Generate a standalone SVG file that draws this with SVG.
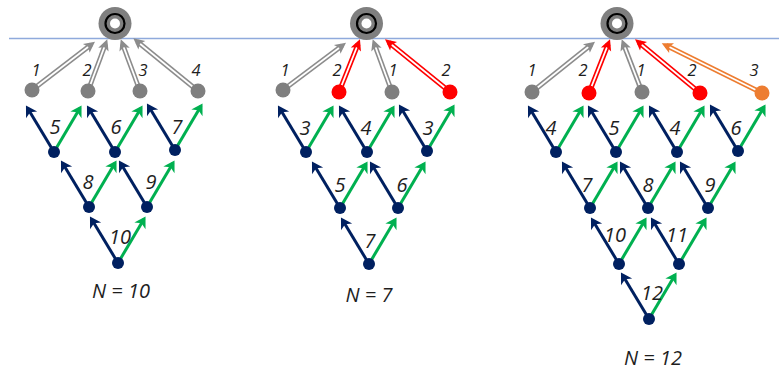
<svg xmlns="http://www.w3.org/2000/svg" width="779" height="372" viewBox="0 0 779 372">
<style>
.nv{stroke:#002060;stroke-width:3;fill:none;marker-end:url(#hNavy)}
.gr{stroke:#00B050;stroke-width:3;fill:none;marker-end:url(#hGreen)}
.dg{stroke:#8C8C8C;stroke-width:5;fill:none}
.dr{stroke:#FF0000;stroke-width:5;fill:none}
.do{stroke:#ED7D31;stroke-width:5;fill:none}
.w{stroke:#FFFFFF;stroke-width:1.8;fill:none}
.wg{marker-end:url(#hGray)}
.wr{marker-end:url(#hRed)}
.wo{marker-end:url(#hOrange)}
.n{fill:#002060}
.tg{fill:#7F7F7F}
.tr{fill:#FF0000}
.to{fill:#ED7D31}
text{font-family:"Open Sans","Liberation Sans",sans-serif;font-style:italic;fill:#1E1E1E;text-anchor:middle}
.s{font-size:16.5px}
.m{font-size:20px}
</style>
<defs>
<marker id="hNavy" markerUnits="userSpaceOnUse" viewBox="-10 -8 15 16" refX="0" refY="0" markerWidth="15" markerHeight="16" orient="auto" overflow="visible"><path d="M3,0 L-8,-6.5 L-5,0 L-8,6.5 Z" fill="#002060"/></marker>
<marker id="hGreen" markerUnits="userSpaceOnUse" viewBox="-10 -8 15 16" refX="0" refY="0" markerWidth="15" markerHeight="16" orient="auto" overflow="visible"><path d="M3,0 L-8,-6.5 L-5,0 L-8,6.5 Z" fill="#00B050"/></marker>
<marker id="hGray" markerUnits="userSpaceOnUse" viewBox="-10 -8 16 16" refX="0" refY="0" markerWidth="16" markerHeight="16" orient="auto" overflow="visible"><path d="M5,0 L-6,-5.5 L-3.5,0 L-6,5.5 Z" fill="#8C8C8C"/></marker>
<marker id="hRed" markerUnits="userSpaceOnUse" viewBox="-10 -8 16 16" refX="0" refY="0" markerWidth="16" markerHeight="16" orient="auto" overflow="visible"><path d="M5,0 L-6,-5.5 L-3.5,0 L-6,5.5 Z" fill="#FF0000"/></marker>
<marker id="hOrange" markerUnits="userSpaceOnUse" viewBox="-10 -8 16 16" refX="0" refY="0" markerWidth="16" markerHeight="16" orient="auto" overflow="visible"><path d="M5,0 L-6,-5.5 L-3.5,0 L-6,5.5 Z" fill="#ED7D31"/></marker>
</defs>
<rect width="779" height="372" fill="#FFFFFF"/>
<line id="surface" x1="9" y1="38.5" x2="779" y2="38.5" stroke="#8FAADC" stroke-width="1.3"/>

<g id="connectors">
<!-- diagram 1 lattice -->
<line class="nv" x1="54" y1="152" x2="27.5" y2="108"/><line class="gr" x1="54" y1="152" x2="80" y2="108"/>
<line class="nv" x1="115" y1="152" x2="88.5" y2="108"/><line class="gr" x1="115" y1="152" x2="141" y2="108"/>
<line class="nv" x1="175" y1="150" x2="148.5" y2="106"/><line class="gr" x1="175" y1="150" x2="201" y2="106"/>
<line class="nv" x1="89" y1="207" x2="62.5" y2="163"/><line class="gr" x1="89" y1="207" x2="115" y2="163"/>
<line class="nv" x1="147" y1="207" x2="120.5" y2="163"/><line class="gr" x1="147" y1="207" x2="173" y2="163"/>
<line class="nv" x1="118" y1="263" x2="91.5" y2="219"/><line class="gr" x1="118" y1="263" x2="144" y2="219"/>
<!-- diagram 2 lattice -->
<line class="nv" x1="306" y1="152" x2="279.5" y2="108"/><line class="gr" x1="306" y1="152" x2="332" y2="108"/>
<line class="nv" x1="367" y1="152" x2="340.5" y2="108"/><line class="gr" x1="367" y1="152" x2="393" y2="108"/>
<line class="nv" x1="427" y1="151" x2="400.5" y2="107"/><line class="gr" x1="427" y1="151" x2="453" y2="107"/>
<line class="nv" x1="340" y1="208" x2="313.5" y2="164"/><line class="gr" x1="340" y1="208" x2="366" y2="164"/>
<line class="nv" x1="398" y1="208" x2="371.5" y2="164"/><line class="gr" x1="398" y1="208" x2="424" y2="164"/>
<line class="nv" x1="369" y1="264" x2="342.5" y2="220"/><line class="gr" x1="369" y1="264" x2="395" y2="220"/>
<!-- diagram 3 lattice -->
<line class="nv" x1="556" y1="152" x2="529.5" y2="108"/><line class="gr" x1="556" y1="152" x2="582" y2="108"/>
<line class="nv" x1="616" y1="152" x2="589.5" y2="108"/><line class="gr" x1="616" y1="152" x2="642" y2="108"/>
<line class="nv" x1="677" y1="152" x2="650.5" y2="108"/><line class="gr" x1="677" y1="152" x2="703" y2="108"/>
<line class="nv" x1="738" y1="151" x2="711.5" y2="107"/><line class="gr" x1="738" y1="151" x2="764" y2="107"/>
<line class="nv" x1="590" y1="208" x2="563.5" y2="164"/><line class="gr" x1="590" y1="208" x2="616" y2="164"/>
<line class="nv" x1="648" y1="208" x2="621.5" y2="164"/><line class="gr" x1="648" y1="208" x2="674" y2="164"/>
<line class="nv" x1="708" y1="208" x2="681.5" y2="164"/><line class="gr" x1="708" y1="208" x2="734" y2="164"/>
<line class="nv" x1="619" y1="264" x2="592.5" y2="220"/><line class="gr" x1="619" y1="264" x2="645" y2="220"/>
<line class="nv" x1="679" y1="264" x2="652.5" y2="220"/><line class="gr" x1="679" y1="264" x2="705" y2="220"/>
<line class="nv" x1="649" y1="319" x2="622.5" y2="275"/><line class="gr" x1="649" y1="319" x2="675" y2="275"/>
<!-- diagram 1 double arrows -->
<line class="dg" x1="32" y1="90" x2="91" y2="44.7"/><line class="w wg" x1="32" y1="90" x2="91" y2="44.7"/>
<line class="dg" x1="88" y1="91" x2="105.5" y2="44"/><line class="w wg" x1="88" y1="91" x2="105.5" y2="44"/>
<line class="dg" x1="140" y1="91" x2="122.5" y2="44"/><line class="w wg" x1="140" y1="91" x2="122.5" y2="44"/>
<line class="dg" x1="198" y1="91" x2="137.2" y2="41.5"/><line class="w wg" x1="198" y1="91" x2="137.2" y2="41.5"/>
<!-- diagram 2 double arrows -->
<line class="dg" x1="283" y1="90" x2="342" y2="45.7"/><line class="w wg" x1="283" y1="90" x2="342" y2="45.7"/>
<line class="dr" x1="339" y1="92" x2="358.1" y2="44"/><line class="w wr" x1="339" y1="92" x2="358.1" y2="44"/>
<line class="dg" x1="392" y1="92" x2="374.4" y2="44"/><line class="w wg" x1="392" y1="92" x2="374.4" y2="44"/>
<line class="dr" x1="450" y1="92" x2="388.9" y2="42.5"/><line class="w wr" x1="450" y1="92" x2="388.9" y2="42.5"/>
<!-- diagram 3 double arrows -->
<line class="dg" x1="532" y1="92" x2="591.1" y2="44.8"/><line class="w wg" x1="532" y1="92" x2="591.1" y2="44.8"/>
<line class="dr" x1="589" y1="93" x2="608.2" y2="44"/><line class="w wr" x1="589" y1="93" x2="608.2" y2="44"/>
<line class="dg" x1="642" y1="92" x2="623.5" y2="44"/><line class="w wg" x1="642" y1="92" x2="623.5" y2="44"/>
<line class="dr" x1="700" y1="93" x2="638.9" y2="42.5"/><line class="w wr" x1="700" y1="93" x2="638.9" y2="42.5"/>
<line class="do" x1="762" y1="93" x2="666.2" y2="45.5"/><line class="w wo" x1="762" y1="93" x2="666.2" y2="45.5"/>
</g>

<!-- sinks -->
<g id="sink1"><circle cx="115" cy="23.5" r="16.5" fill="#7F7F7F"/><circle cx="115" cy="23.5" r="9.5" fill="none" stroke="#000" stroke-width="2.2"/><circle cx="115" cy="23.5" r="5" fill="#FFF"/></g>
<g id="sink2"><circle cx="366.5" cy="23.5" r="16.5" fill="#7F7F7F"/><circle cx="366.5" cy="23.5" r="9.5" fill="none" stroke="#000" stroke-width="2.2"/><circle cx="366.5" cy="23.5" r="5" fill="#FFF"/></g>
<g id="sink3"><circle cx="617" cy="23.5" r="16.5" fill="#7F7F7F"/><circle cx="617" cy="23.5" r="9.5" fill="none" stroke="#000" stroke-width="2.2"/><circle cx="617" cy="23.5" r="5" fill="#FFF"/></g>

<!-- diagram 1 nodes -->
<g id="d1-t1"><circle class="tg" cx="32" cy="90" r="7.5"/><text class="s" x="36" y="76">1</text></g>
<g id="d1-t2"><circle class="tg" cx="88" cy="91" r="7.5"/><text class="s" x="87" y="76">2</text></g>
<g id="d1-t3"><circle class="tg" cx="140" cy="91" r="7.5"/><text class="s" x="143" y="76">3</text></g>
<g id="d1-t4"><circle class="tg" cx="198" cy="91" r="7.5"/><text class="s" x="196" y="76">4</text></g>
<g id="d1-5"><circle class="n" cx="54" cy="152" r="6"/><text class="m" x="55" y="134">5</text></g>
<g id="d1-6"><circle class="n" cx="115" cy="152" r="6"/><text class="m" x="116" y="134">6</text></g>
<g id="d1-7"><circle class="n" cx="175" cy="150" r="6"/><text class="m" x="177" y="134">7</text></g>
<g id="d1-8"><circle class="n" cx="89" cy="207" r="6"/><text class="m" x="88" y="189">8</text></g>
<g id="d1-9"><circle class="n" cx="147" cy="207" r="6"/><text class="m" x="151" y="189">9</text></g>
<g id="d1-10"><circle class="n" cx="118" cy="263" r="6"/><text class="m" x="120" y="244">10</text></g>
<text class="m" x="121" y="298">N = 10</text>

<!-- diagram 2 nodes -->
<g id="d2-t1"><circle class="tg" cx="283" cy="90" r="7.5"/><text class="s" x="285" y="76">1</text></g>
<g id="d2-t2"><circle class="tr" cx="339" cy="92" r="7.5"/><text class="s" x="337" y="76">2</text></g>
<g id="d2-t3"><circle class="tg" cx="392" cy="92" r="7.5"/><text class="s" x="393" y="76">1</text></g>
<g id="d2-t4"><circle class="tr" cx="450" cy="92" r="7.5"/><text class="s" x="446" y="76">2</text></g>
<g id="d2-3a"><circle class="n" cx="306" cy="152" r="6"/><text class="m" x="305" y="135">3</text></g>
<g id="d2-4"><circle class="n" cx="367" cy="152" r="6"/><text class="m" x="366" y="135">4</text></g>
<g id="d2-3b"><circle class="n" cx="427" cy="151" r="6"/><text class="m" x="428" y="135">3</text></g>
<g id="d2-5"><circle class="n" cx="340" cy="208" r="6"/><text class="m" x="340" y="192">5</text></g>
<g id="d2-6"><circle class="n" cx="398" cy="208" r="6"/><text class="m" x="402" y="192">6</text></g>
<g id="d2-7"><circle class="n" cx="369" cy="264" r="6"/><text class="m" x="370" y="248">7</text></g>
<text class="m" x="369" y="302">N = 7</text>

<!-- diagram 3 nodes -->
<g id="d3-t1"><circle class="tg" cx="532" cy="92" r="7.5"/><text class="s" x="532" y="76">1</text></g>
<g id="d3-t2"><circle class="tr" cx="589" cy="93" r="7.5"/><text class="s" x="583" y="76">2</text></g>
<g id="d3-t3"><circle class="tg" cx="642" cy="92" r="7.5"/><text class="s" x="641" y="76">1</text></g>
<g id="d3-t4"><circle class="tr" cx="700" cy="93" r="7.5"/><text class="s" x="692" y="76">2</text></g>
<g id="d3-t5"><circle class="to" cx="762" cy="93" r="7.5"/><text class="s" x="754" y="76">3</text></g>
<g id="d3-4a"><circle class="n" cx="556" cy="152" r="6"/><text class="m" x="551" y="135">4</text></g>
<g id="d3-5"><circle class="n" cx="616" cy="152" r="6"/><text class="m" x="614" y="135">5</text></g>
<g id="d3-4b"><circle class="n" cx="677" cy="152" r="6"/><text class="m" x="675" y="135">4</text></g>
<g id="d3-6"><circle class="n" cx="738" cy="151" r="6"/><text class="m" x="736" y="135">6</text></g>
<g id="d3-7"><circle class="n" cx="590" cy="208" r="6"/><text class="m" x="587" y="192">7</text></g>
<g id="d3-8"><circle class="n" cx="648" cy="208" r="6"/><text class="m" x="648" y="192">8</text></g>
<g id="d3-9"><circle class="n" cx="708" cy="208" r="6"/><text class="m" x="710" y="192">9</text></g>
<g id="d3-10"><circle class="n" cx="619" cy="264" r="6"/><text class="m" x="615" y="242">10</text></g>
<g id="d3-11"><circle class="n" cx="679" cy="264" r="6"/><text class="m" x="677" y="242">11</text></g>
<g id="d3-12"><circle class="n" cx="649" cy="319" r="6"/><text class="m" x="652" y="300">12</text></g>
<text class="m" x="653" y="365">N = 12</text>
</svg>
